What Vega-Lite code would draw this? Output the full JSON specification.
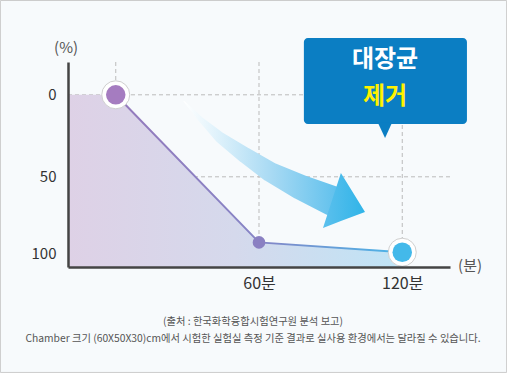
{
  "$schema": "https://vega.github.io/schema/vega-lite/v6.json",
  "width": 382,
  "height": 205,
  "autosize": {"type": "none"},
  "padding": {"left": 68, "top": 62, "right": 57, "bottom": 106},
  "background": "#f7fafc",
  "config": {"view": {"stroke": null}, "font": "Noto Sans CJK KR"},
  "datasets": {
    "series": [{"t": 0, "v": 0}, {"t": 60, "v": 90}, {"t": 120, "v": 96}],
    "fillarea": [{"t": -20, "v": 0}, {"t": 0, "v": 0}, {"t": 60, "v": 90}, {"t": 120, "v": 96}],
    "vgrid": [{"t": 0}, {"t": 60}, {"t": 120}],
    "hgrid": [{"v": 0}, {"v": 50}],
    "arrow": [
      {"t": 28.6, "v": 4.0, "w": 0},
      {"t": 35.3, "v": 14.6, "w": 5},
      {"t": 43.7, "v": 26.0, "w": 11},
      {"t": 54.1, "v": 36.8, "w": 16},
      {"t": 64.6, "v": 47.0, "w": 20},
      {"t": 77.2, "v": 56.2, "w": 25},
      {"t": 90.6, "v": 64.6, "w": 30}
    ],
    "head": [
      {"t": 86.8, "v": 81.2, "v2": 81.2},
      {"t": 94.3, "v": 47.7, "v2": 77.0},
      {"t": 104.4, "v": 71.5, "v2": 71.5}
    ],
    "frame": [{"x1": -48.3, "x2": 163.7, "y1": -57.5, "y2": 169.3}],
    "callout": [{"x1": 78.8, "x2": 147.1, "y1": -34.6, "y2": 17.8}],
    "tail": [
      {"t": 109.8, "v": 17, "v2": 17},
      {"t": 112.8, "v": 17, "v2": 26.3},
      {"t": 115.7, "v": 17, "v2": 17}
    ],
    "calloutText": [
      {"t": 112.8, "v": -21.2, "label": "대장균"},
      {"t": 112.8, "v": 1.3, "label": "제거"}
    ],
    "unitText": [
      {"t": -20.8, "v": -28.6, "label": "(%)"},
      {"t": 148.4, "v": 104.4, "label": "(분)"}
    ],
    "notes": [
      {"t": 57.5, "v": 138.5, "label": "(출처 : 한국화학융합시험연구원 분석 보고)"},
      {"t": 57.5, "v": 148.9, "label": "Chamber 크기 (60X50X30)cm에서 시험한 실험실 측정 기준 결과로 실사용 환경에서는 달라질 수 있습니다."}
    ]
  },
  "layer": [
    {
      "data": {"name": "frame"},
      "mark": {"type": "rect", "fillOpacity": 0, "stroke": "#cccccc", "strokeWidth": 1},
      "encoding": {
        "x": {"field": "x1", "type": "quantitative", "scale": {"domain": [-20, 140], "nice": false, "zero": false},
          "axis": {"values": [60, 120], "labelExpr": "datum.value + '분'", "title": null, "grid": false, "ticks": false,
            "domainColor": "#444444", "domainWidth": 2.5, "labelFontSize": 16, "labelColor": "#333333",
            "labelPadding": 8, "labelFlush": false, "zindex": 1, "labelFont": "Noto Sans CJK KR"}},
        "x2": {"field": "x2"},
        "y": {"field": "y1", "type": "quantitative", "scale": {"domain": [-20, 105], "nice": false, "zero": false, "reverse": true},
          "axis": {"values": [0, 50, 100], "title": null, "grid": false, "ticks": false,
            "domainColor": "#444444", "domainWidth": 2.5, "labelFontSize": 15, "labelColor": "#333333",
            "labelPadding": 12, "labelFlush": false, "zindex": 1, "labelFont": "Noto Sans CJK KR",
            "labelOffset": {"condition": {"test": "datum.value === 100", "value": -5}, "value": 0}}},
        "y2": {"field": "y2"}
      }
    },
    {
      "data": {"name": "vgrid"},
      "mark": {"type": "rule", "color": "#bbbbbb", "strokeWidth": 1, "strokeDash": [4, 3]},
      "encoding": {
        "x": {"field": "t", "type": "quantitative"},
        "y": {"datum": -20},
        "y2": {"datum": 105}
      }
    },
    {
      "data": {"name": "hgrid"},
      "mark": {"type": "rule", "color": "#bbbbbb", "strokeWidth": 1, "strokeDash": [4, 3]},
      "encoding": {
        "y": {"field": "v", "type": "quantitative"},
        "x": {"datum": -20},
        "x2": {"datum": 140}
      }
    },
    {
      "data": {"name": "fillarea"},
      "mark": {"type": "area", "fill": {"gradient": "linear", "x1": 0, "y1": 0, "x2": 1, "y2": 0,
        "stops": [{"offset": 0, "color": "#ded1e6"}, {"offset": 0.5, "color": "#d5d9ec"}, {"offset": 1, "color": "#bfe4f6"}]}},
      "encoding": {
        "x": {"field": "t", "type": "quantitative"},
        "y": {"field": "v", "type": "quantitative"},
        "y2": {"datum": 105}
      }
    },
    {
      "data": {"name": "arrow"},
      "mark": {"type": "trail", "fill": {"gradient": "linear", "x1": 0, "y1": 0, "x2": 1, "y2": 0,
        "stops": [{"offset": 0, "color": "#ffffff"}, {"offset": 0.2, "color": "#e0f2fb"}, {"offset": 0.55, "color": "#a6d9f3"}, {"offset": 1, "color": "#55bdec"}]}},
      "encoding": {
        "x": {"field": "t", "type": "quantitative"},
        "y": {"field": "v", "type": "quantitative"},
        "size": {"field": "w", "type": "quantitative", "scale": {"domain": [0, 30], "range": [0, 30]}, "legend": null}
      }
    },
    {
      "data": {"name": "head"},
      "mark": {"type": "area", "orient": "vertical", "fill": {"gradient": "linear", "x1": 0, "y1": 0, "x2": 1, "y2": 0,
        "stops": [{"offset": 0, "color": "#5cc0ed"}, {"offset": 1, "color": "#30b4e8"}]}},
      "encoding": {
        "x": {"field": "t", "type": "quantitative"},
        "y": {"field": "v", "type": "quantitative"},
        "y2": {"field": "v2"}
      }
    },
    {
      "data": {"name": "series"},
      "mark": {"type": "line", "strokeWidth": 2, "stroke": {"gradient": "linear", "x1": 0, "y1": 0, "x2": 1, "y2": 0,
        "stops": [{"offset": 0, "color": "#957abc"}, {"offset": 0.5, "color": "#8685c6"}, {"offset": 1, "color": "#48b6e9"}]}},
      "encoding": {
        "x": {"field": "t", "type": "quantitative"},
        "y": {"field": "v", "type": "quantitative"}
      }
    },
    {
      "data": {"name": "series"},
      "transform": [{"filter": "datum.t !== 60"}],
      "mark": {"type": "circle", "size": 784, "fill": "#ffffff", "stroke": "#cfcfcf", "strokeWidth": 1, "opacity": 1},
      "encoding": {
        "x": {"field": "t", "type": "quantitative"},
        "y": {"field": "v", "type": "quantitative"}
      }
    },
    {
      "data": {"name": "series"},
      "mark": {"type": "circle", "opacity": 1},
      "encoding": {
        "x": {"field": "t", "type": "quantitative"},
        "y": {"field": "v", "type": "quantitative"},
        "color": {"field": "t", "type": "nominal", "scale": {"domain": [0, 60, 120], "range": ["#a57cc0", "#8a80c2", "#43b9ea"]}, "legend": null},
        "size": {"condition": {"test": "datum.t === 60", "value": 160}, "value": 380}
      }
    },
    {
      "data": {"name": "callout"},
      "mark": {"type": "rect", "cornerRadius": 4, "color": "#0b7ec3"},
      "encoding": {
        "x": {"field": "x1", "type": "quantitative"},
        "x2": {"field": "x2"},
        "y": {"field": "y1", "type": "quantitative"},
        "y2": {"field": "y2"}
      }
    },
    {
      "data": {"name": "tail"},
      "mark": {"type": "area", "orient": "vertical", "color": "#0b7ec3"},
      "encoding": {
        "x": {"field": "t", "type": "quantitative"},
        "y": {"field": "v", "type": "quantitative"},
        "y2": {"field": "v2"}
      }
    },
    {
      "data": {"name": "calloutText"},
      "mark": {"type": "text", "fontSize": 24, "fontWeight": "bold", "baseline": "middle", "align": "center", "font": "Noto Sans CJK KR"},
      "encoding": {
        "x": {"field": "t", "type": "quantitative"},
        "y": {"field": "v", "type": "quantitative"},
        "text": {"field": "label"},
        "color": {"condition": {"test": "datum.label === '제거'", "value": "#fff100"}, "value": "#ffffff"}
      }
    },
    {
      "data": {"name": "unitText"},
      "mark": {"type": "text", "fontSize": 15, "color": "#555555", "baseline": "middle", "align": "center", "font": "Noto Sans CJK KR"},
      "encoding": {
        "x": {"field": "t", "type": "quantitative"},
        "y": {"field": "v", "type": "quantitative"},
        "text": {"field": "label"}
      }
    },
    {
      "data": {"name": "notes"},
      "mark": {"type": "text", "fontSize": 10.3, "color": "#555555", "baseline": "middle", "align": "center", "font": "Noto Sans CJK KR"},
      "encoding": {
        "x": {"field": "t", "type": "quantitative"},
        "y": {"field": "v", "type": "quantitative"},
        "text": {"field": "label"}
      }
    }
  ]
}
